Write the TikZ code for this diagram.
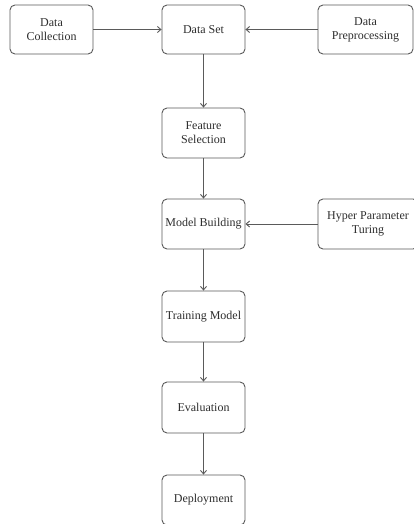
\documentclass[tikz,border=0pt]{standalone}
\usepackage{fontspec}
\setmainfont{Liberation Serif}
\usetikzlibrary{arrows.meta}
\definecolor{boxgray}{HTML}{5A5A5A}
\definecolor{textgray}{HTML}{2E2E2E}
\tikzset{
	stage/.style={draw=boxgray, line width=0.9pt, rounded corners=5pt, minimum width=83pt, minimum height=49pt, inner sep=1pt, align=center, text=textgray, font=\fontsize{12}{14}\selectfont},
	flow/.style={draw=boxgray, line width=0.9pt, -{Straight Barb[length=3.5pt,width=6pt]}}
}
\begin{document}
\begin{tikzpicture}[x=1pt, y=-1pt]
		%%%%% START %%%%%
		\useasboundingbox (0, 0) rectangle (414, 524);
		\clip (0, 0) rectangle (414, 524);
		\fill[white] (0, 0) rectangle (414, 524);
		
		% top row
		\node[stage] (collect) at (51.5, 29.5) {Data\\Collection};
		\node[stage] (dataset) at (203.5, 29.5) {Data Set};
		\node[stage, minimum width=95pt] (preproc) at (365.5, 29.5) {Data\\Preprocessing};
		
		% main column
		\node[stage, minimum height=50pt] (feature) at (203.5, 133) {Feature\\Selection};
		\node[stage, minimum height=50pt] (model) at (203.5, 224) {Model Building};
		\node[stage, minimum width=100pt, minimum height=50pt] (hyper) at (368, 224) {Hyper Parameter\\Turing};
		\node[stage, minimum height=51pt] (training) at (203.5, 316.5) {Training Model};
		\node[stage, minimum height=51pt] (evaluation) at (203.5, 407.5) {Evaluation};
		\node[stage, minimum height=50pt] (deploy) at (203.5, 500) {Deployment};
		
		% connectors
		\draw[flow] (collect) -- (dataset);
		\draw[flow] (preproc) -- (dataset);
		\draw[flow] (dataset) -- (feature);
		\draw[flow] (feature) -- (model);
		\draw[flow] (hyper) -- (model);
		\draw[flow] (model) -- (training);
		\draw[flow] (training) -- (evaluation);
		\draw[flow] (evaluation) -- (deploy);
		
		%%%%% END %%%%%
	\end{tikzpicture}
\end{document}
